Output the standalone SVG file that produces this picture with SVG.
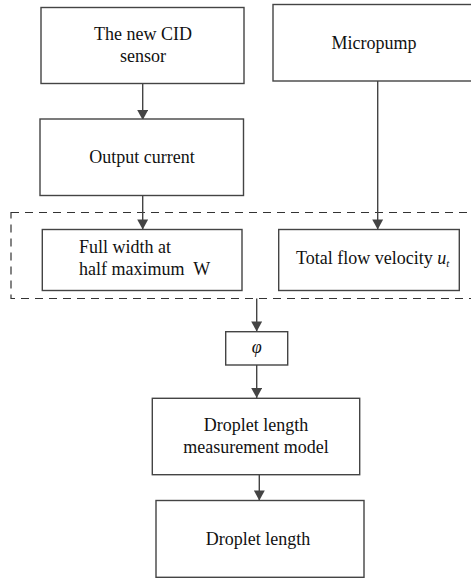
<svg xmlns="http://www.w3.org/2000/svg" width="471" height="581" viewBox="0 0 471 581">
<style>
.box{fill:#fff;stroke:#444;stroke-width:1.4}
.dash{fill:none;stroke:#333;stroke-width:1.2;stroke-dasharray:8 6}
.line{stroke:#444;stroke-width:1.4;fill:none}
text{font-family:"Liberation Serif","Times New Roman",serif;font-size:18px;fill:#111;white-space:pre}
.c{text-anchor:middle}
</style>
<defs>
<marker id="ah" viewBox="0 0 10 11" refX="10" refY="5.5" markerWidth="11" markerHeight="11" markerUnits="userSpaceOnUse" orient="auto">
<path d="M0,0 L10,5.5 L0,11 Z" fill="#444"/>
</marker>
</defs>
<rect width="471" height="581" fill="#fff"/>
<g id="group-dashed">
<rect class="dash" x="11" y="212.5" width="470" height="86"/>
</g>
<g id="connectors">
<line class="line" x1="142.7" y1="83" x2="142.7" y2="120" marker-end="url(#ah)"/>
<line class="line" x1="142.7" y1="196" x2="142.7" y2="229.5" marker-end="url(#ah)"/>
<line class="line" x1="377.7" y1="81" x2="377.7" y2="229.5" marker-end="url(#ah)"/>
<line class="line" x1="256.7" y1="298.5" x2="256.7" y2="331.5" marker-end="url(#ah)"/>
<line class="line" x1="256.7" y1="365" x2="256.7" y2="398" marker-end="url(#ah)"/>
<line class="line" x1="259.3" y1="474.7" x2="259.3" y2="500.5" marker-end="url(#ah)"/>
</g>
<g id="node-cid">
<rect class="box" x="41" y="7.5" width="203" height="76"/>
<text class="c" x="143" y="40">The new CID</text>
<text class="c" x="143" y="62">sensor</text>
</g>
<g id="node-micropump">
<rect class="box" x="273" y="4.5" width="210" height="76.5"/>
<text class="c" x="374" y="49">Micropump</text>
</g>
<g id="node-output">
<rect class="box" x="40" y="119" width="203.5" height="76.5"/>
<text class="c" x="142" y="163">Output current</text>
</g>
<g id="node-fwhm">
<rect class="box" x="42.3" y="229.5" width="199.7" height="61"/>
<text x="79" y="252.5">Full width at</text>
<text x="79" y="274.5" xml:space="preserve">half maximum  W</text>
</g>
<g id="node-velocity">
<rect class="box" x="278.7" y="229.5" width="180.6" height="61"/>
<text x="296" y="263.5">Total flow velocity <tspan font-style="italic">u</tspan><tspan font-style="italic" font-size="11" dy="3">t</tspan></text>
</g>
<g id="node-phi">
<rect class="box" x="225.7" y="331.7" width="62" height="33.3"/>
<text class="c" x="256.7" y="353" font-style="italic">φ</text>
</g>
<g id="node-model">
<rect class="box" x="152.3" y="398.3" width="207.4" height="76.4"/>
<text class="c" x="256" y="431">Droplet length</text>
<text class="c" x="256" y="452.5">measurement model</text>
</g>
<g id="node-length">
<rect class="box" x="156" y="500.5" width="208" height="76.8"/>
<text class="c" x="258" y="545">Droplet length</text>
</g>
</svg>
